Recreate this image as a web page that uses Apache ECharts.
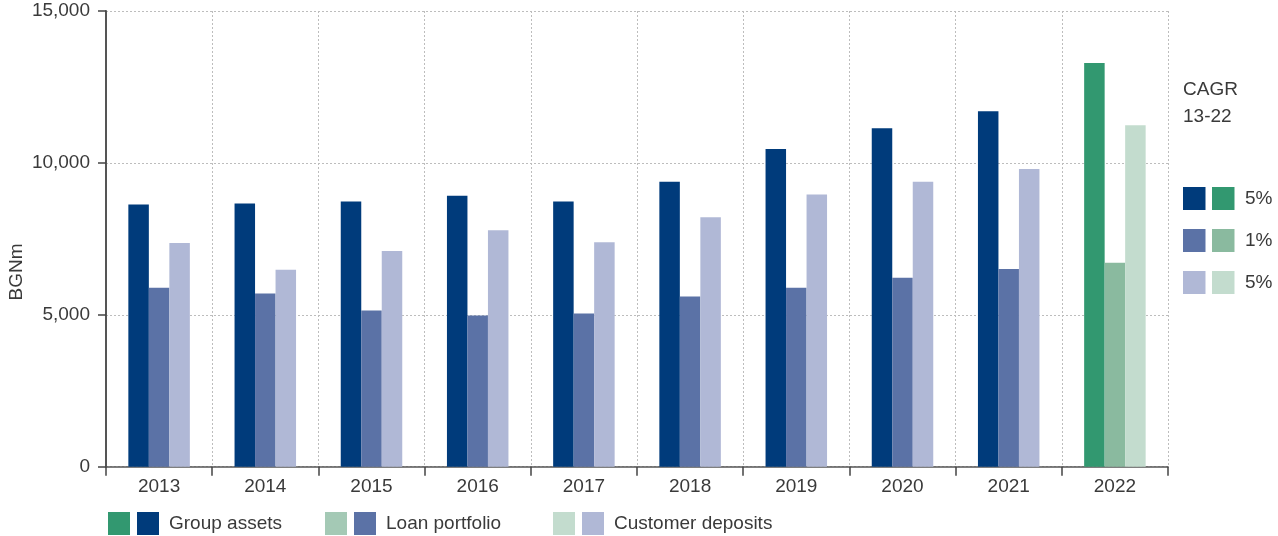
<!DOCTYPE html>
<html>
<head>
<meta charset="utf-8">
<script src="https://cdn.jsdelivr.net/npm/echarts@6/dist/echarts.min.js"></script>
<style>
  html, body { margin: 0; padding: 0; background: #ffffff; }
  #chart { width: 1278px; height: 536px; }
</style>
</head>
<body>
<div id="chart"></div>
<script>
// Balance sheet development, BGN millions
const categories = ['2013', '2014', '2015', '2016', '2017', '2018', '2019', '2020', '2021', '2022'];
const groupAssets = [8630, 8660, 8730, 8920, 8730, 9380, 10460, 11140, 11700, 13290];
const loanPortfolio = [5890, 5700, 5140, 4980, 5040, 5600, 5890, 6220, 6510, 6710];
const customerDeposits = [7360, 6480, 7100, 7780, 7390, 8210, 8960, 9380, 9800, 11240];
const yTicks = [0, 5000, 10000, 15000];
const seriesNames = ['Group assets', 'Loan portfolio', 'Customer deposits'];
const cagrTitle = ['CAGR', '13-22'];
const cagrRates = ['5%', '1%', '5%'];

const blueColors = ['#003B7B', '#5B72A6', '#B0B8D6'];
const greenColors = ['#329870', '#8ABA9F', '#C3DCCE'];
const legendGreens = ['#329870', '#A4C9B5', '#C3DCCE'];
const FONT = '"Liberation Sans", Arial, sans-serif';
const FS = 19;
const TEXT = '#3a3a3a';
const GRID = '#bdbdbd';

const lastIdx = categories.length - 1;
// history years in blue, latest year highlighted in green (same stack slot)
const historyPart = arr => arr.map((v, i) => (i === lastIdx ? '-' : v));
const latestPart = arr => arr.map((v, i) => (i === lastIdx ? v : '-'));
const valueSets = [groupAssets, loanPortfolio, customerDeposits];

const series = [];
valueSets.forEach((vals, k) => {
  series.push({
    name: seriesNames[k],
    type: 'bar',
    stack: 's' + k,
    barWidth: 20.5,
    barGap: '0%',
    itemStyle: { color: blueColors[k] },
    data: historyPart(vals)
  });
  series.push({
    name: seriesNames[k] + ' 2022',
    type: 'bar',
    stack: 's' + k,
    barWidth: 20.5,
    barGap: '0%',
    itemStyle: { color: greenColors[k] },
    data: latestPart(vals)
  });
});

const legendLefts = [103, 320, 548];
const legends = seriesNames.map((n, k) => ({
  left: legendLefts[k],
  top: 507,
  orient: 'horizontal',
  itemWidth: 22,
  itemHeight: 23,
  itemGap: 7,
  selectedMode: false,
  icon: 'rect',
  data: [
    { name: n + ' 2022', itemStyle: { color: legendGreens[k] } },
    { name: n }
  ],
  formatter: name => (name.endsWith(' 2022') ? '' : name),
  textStyle: { fontFamily: FONT, fontSize: FS, color: TEXT, padding: [0, 0, 0, 5] }
}));

// axis title and CAGR side panel
const graphics = [
  {
    type: 'text',
    x: 17, y: 272,
    rotation: Math.PI / 2,
    style: { text: 'BGNm', fontFamily: FONT, fontSize: FS, fill: TEXT, align: 'center', verticalAlign: 'middle' }
  },
  {
    type: 'text',
    left: 1183, top: 76,
    style: { text: cagrTitle.join('\n'), fontFamily: FONT, fontSize: FS, lineHeight: 27, fill: TEXT }
  }
];
cagrRates.forEach((r, k) => {
  const y = 187 + k * 42;
  graphics.push({ type: 'rect', shape: { x: 1183, y: y, width: 22.5, height: 23 }, style: { fill: blueColors[k] } });
  graphics.push({ type: 'rect', shape: { x: 1212, y: y, width: 22.5, height: 23 }, style: { fill: greenColors[k] } });
  graphics.push({
    type: 'text', x: 1245, y: y + 12,
    style: { text: r, fontFamily: FONT, fontSize: FS, fill: TEXT, verticalAlign: 'middle' }
  });
});

const chart = echarts.init(document.getElementById('chart'), null, { renderer: 'canvas' });
chart.setOption({
  animation: false,
  backgroundColor: '#ffffff',
  grid: { left: 106, top: 11, width: 1062, height: 455.7, containLabel: false },
  legend: legends,
  xAxis: {
    type: 'category',
    data: categories,
    boundaryGap: true,
    axisLine: { show: true, lineStyle: { color: '#555555', width: 1.5 } },
    axisTick: { show: true, length: 9, alignWithLabel: false, lineStyle: { color: '#444444', width: 1.5 } },
    axisLabel: { margin: 11, fontFamily: FONT, fontSize: FS, color: TEXT },
    splitLine: { show: true, lineStyle: { color: GRID, type: [2, 2], width: 1 } }
  },
  yAxis: {
    type: 'value',
    min: yTicks[0],
    max: yTicks[yTicks.length - 1],
    interval: yTicks[1] - yTicks[0],
    axisLine: { show: true, lineStyle: { color: '#555555', width: 2 } },
    axisTick: { show: true, length: 8, lineStyle: { color: '#444444', width: 1.5 } },
    axisLabel: {
      margin: 16, fontFamily: FONT, fontSize: FS, color: TEXT,
      formatter: v => v.toLocaleString('en-US')
    },
    splitLine: { show: true, lineStyle: { color: GRID, type: [2, 2], width: 1 } }
  },
  graphic: graphics,
  series: series
});
</script>
</body>
</html>
